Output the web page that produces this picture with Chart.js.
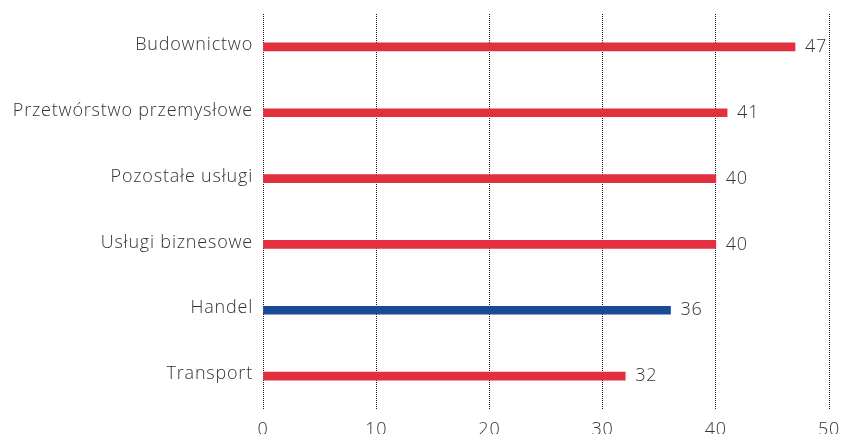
<!DOCTYPE html>
<html>
<head>
<meta charset="utf-8">
<script src="https://cdn.jsdelivr.net/npm/chart.js@4/dist/chart.umd.min.js"></script>
<style>
  html, body { margin: 0; padding: 0; background: #ffffff; }
  #wrap { width: 843px; height: 434px; position: relative; }
</style>
</head>
<body>
<div id="wrap"><canvas id="chart"></canvas></div>
<script>
const categories = [
  'Budownictwo',
  'Przetwórstwo przemysłowe',
  'Pozostałe usługi',
  'Usługi biznesowe',
  'Handel',
  'Transport'
];
const values = [47, 41, 40, 40, 36, 32];
const highlighted = ['Handel'];
const xTicks = [0, 10, 20, 30, 40, 50];

const RED = '#e2303e';
const BLUE = '#1a4b97';
const TEXT = '#333333';
const FONT = 'Open Sans';
const FONT_SIZE = 18;

const barColors = categories.map(c => highlighted.includes(c) ? BLUE : RED);

// A touch of tracking for a wider, airier typeface look
const tracking = {
  id: 'tracking',
  beforeInit(chart) { chart.ctx.letterSpacing = '0.8px'; },
  beforeDraw(chart) { chart.ctx.letterSpacing = '0.8px'; }
};

// Writes each bar's value just past its end
const valueLabels = {
  id: 'valueLabels',
  afterDatasetsDraw(chart) {
    const { ctx } = chart;
    const meta = chart.getDatasetMeta(0);
    ctx.save();
    ctx.font = '300 ' + FONT_SIZE + 'px "' + FONT + '"';
    ctx.fillStyle = TEXT;
    ctx.textAlign = 'left';
    ctx.textBaseline = 'middle';
    meta.data.forEach((bar, i) => {
      ctx.fillText(String(chart.data.datasets[0].data[i]), bar.x + 10, bar.y);
    });
    ctx.restore();
  }
};

new Chart(document.getElementById('chart'), {
  type: 'bar',
  data: {
    labels: categories,
    datasets: [{
      data: values,
      backgroundColor: barColors,
      barThickness: 8,
      borderWidth: 0
    }]
  },
  options: {
    indexAxis: 'y',
    responsive: true,
    maintainAspectRatio: false,
    animation: false,
    layout: { padding: { top: 14, right: 0, left: 0, bottom: 0 } },
    plugins: {
      legend: { display: false },
      tooltip: { enabled: false }
    },
    scales: {
      x: {
        min: 0,
        max: 50,
        afterBuildTicks(scale) {
          scale.ticks = xTicks.map(v => ({ value: v }));
        },
        afterFit(scale) {
          scale.height = 25;
          scale.paddingLeft = 0;
          scale.paddingRight = 14;
        },
        border: { display: false, dash: [1, 1] },
        grid: {
          display: true,
          drawTicks: false,
          color: '#1a1a1a',
          lineWidth: 1
        },
        ticks: {
          padding: 10,
          color: TEXT,
          font: { family: FONT, size: FONT_SIZE, weight: '300' }
        }
      },
      y: {
        afterFit(scale) {
          scale.width = 263;
          scale.paddingTop = 0;
          scale.paddingBottom = 0;
        },
        border: { display: false },
        grid: { display: false, drawTicks: false },
        ticks: {
          padding: 10,
          labelOffset: -2,
          color: TEXT,
          font: { family: FONT, size: FONT_SIZE, weight: '300' }
        }
      }
    }
  },
  plugins: [tracking, valueLabels]
});
</script>
</body>
</html>
